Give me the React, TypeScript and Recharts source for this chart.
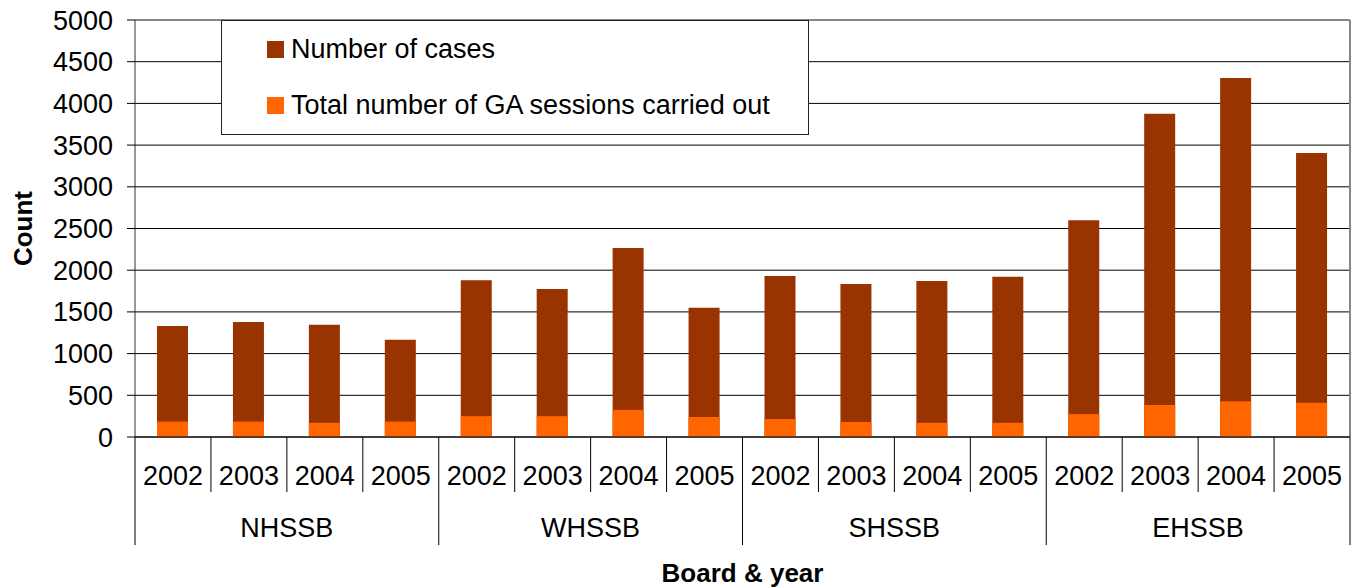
import React from "react";
import { BarChart, Bar, XAxis, YAxis, CartesianGrid, Legend, ReferenceLine } from "recharts";

const boards = ["NHSSB", "WHSSB", "SHSSB", "EHSSB"];
const years = ["2002", "2003", "2004", "2005"];
const cases = [1330, 1380, 1345, 1165, 1880, 1775, 2265, 1550, 1930, 1835, 1870, 1920, 2600, 3875, 4305, 3405];
const sessions = [185, 185, 170, 185, 250, 250, 325, 240, 215, 180, 170, 170, 275, 385, 430, 410];
const yTicks = [0, 500, 1000, 1500, 2000, 2500, 3000, 3500, 4000, 4500, 5000];

const data = boards.flatMap((board, b) =>
  years.map((year, i) => ({
    key: `${board} ${year}`,
    board,
    year,
    cases: cases[b * 4 + i],
    sessions: sessions[b * 4 + i],
  }))
);

const FONT = "'Liberation Sans', Arial, sans-serif";
const SIZE = 27;

function YearTick(props: any) {
  const { x, y, payload, index } = props;
  const half = payload?.offset ?? 38;
  const row = data[index];
  const left = x - half;
  const right = x + half;
  const first = index % 4 === 0;
  return (
    <g>
      <line x1={left} x2={left} y1={y} y2={y + (first ? 108 : 55)} stroke="#000" />
      {index === data.length - 1 && <line x1={right} x2={right} y1={y} y2={y + 108} stroke="#000" />}
      <text x={x} y={y + 48} textAnchor="middle" fontSize={SIZE} fontFamily={FONT} fill="#000">
        {row?.year}
      </text>
      {first && (
        <text x={left + half * 4} y={y + 100} textAnchor="middle" fontSize={SIZE} fontFamily={FONT} fill="#000">
          {row?.board}
        </text>
      )}
    </g>
  );
}

function LegendBox({ payload }: any) {
  return (
    <div
      style={{
        boxSizing: "border-box",
        width: 588,
        height: 115,
        border: "1px solid #222",
        background: "#fff",
      }}
    >
      {(payload || []).map((entry: any) => (
        <div key={entry.value} style={{ height: 56, display: "flex", alignItems: "center", paddingLeft: 45 }}>
          <span style={{ width: 17, height: 17, background: entry.color, marginRight: 7, display: "inline-block" }} />
          <span style={{ fontSize: SIZE, fontFamily: FONT, color: "#000", lineHeight: 1 }}>{entry.value}</span>
        </div>
      ))}
    </div>
  );
}

export default function App() {
  return (
    <div style={{ position: "absolute", left: 0, top: 0, width: 1352, height: 588, background: "#fff" }}>
      <BarChart width={1352} height={588} data={data} margin={{ top: 20, right: 2, left: 0, bottom: 0 }}>
        <CartesianGrid vertical={false} stroke="#000" />
        <CartesianGrid
          horizontal={false}
          stroke="#888"
          strokeWidth={2}
          verticalCoordinatesGenerator={({ offset }: any) => [offset.left + offset.width]}
        />
        <XAxis
          dataKey="key"
          height={151}
          interval={0}
          tickLine={false}
          tickSize={0}
          tickMargin={0}
          axisLine={{ stroke: "#000" }}
          tick={<YearTick />}
          label={{
            value: "Board & year",
            content: ({ viewBox }: any) => (
              <text
                x={viewBox.x + viewBox.width / 2}
                y={viewBox.y + viewBox.height - 6}
                textAnchor="middle"
                fontSize={26}
                fontWeight="bold"
                fontFamily={FONT}
                fill="#000"
              >
                Board &amp; year
              </text>
            ),
          }}
        />
        <XAxis xAxisId="b" dataKey="key" hide />
        <YAxis
          width={135}
          domain={[0, 5000]}
          ticks={yTicks}
          interval={0}
          tickSize={8}
          tickMargin={14}
          axisLine={{ stroke: "#333" }}
          tickLine={{ stroke: "#000" }}
          tick={{ fontSize: SIZE, fill: "#000", fontFamily: FONT }}
          label={{
            value: "Count",
            content: ({ viewBox }: any) => {
              const cy = viewBox.y + viewBox.height / 2;
              return (
                <text
                  x={32}
                  y={cy}
                  transform={`rotate(-90, 32, ${cy})`}
                  textAnchor="middle"
                  fontSize={26}
                  fontWeight="bold"
                  fontFamily={FONT}
                  fill="#000"
                >
                  Count
                </text>
              );
            },
          }}
        />
        <ReferenceLine y={5000} stroke="#888" strokeWidth={2} />
        <Legend
          layout="vertical"
          align="center"
          verticalAlign="middle"
          wrapperStyle={{ left: 221, top: 20, width: 588, height: 115 }}
          content={<LegendBox />}
        />
        <Bar dataKey="cases" name="Number of cases" fill="#993300" barSize={31} isAnimationActive={false} />
        <Bar
          dataKey="sessions"
          name="Total number of GA sessions carried out"
          xAxisId="b"
          fill="#FF6600"
          barSize={31}
          isAnimationActive={false}
        />
      </BarChart>
    </div>
  );
}
